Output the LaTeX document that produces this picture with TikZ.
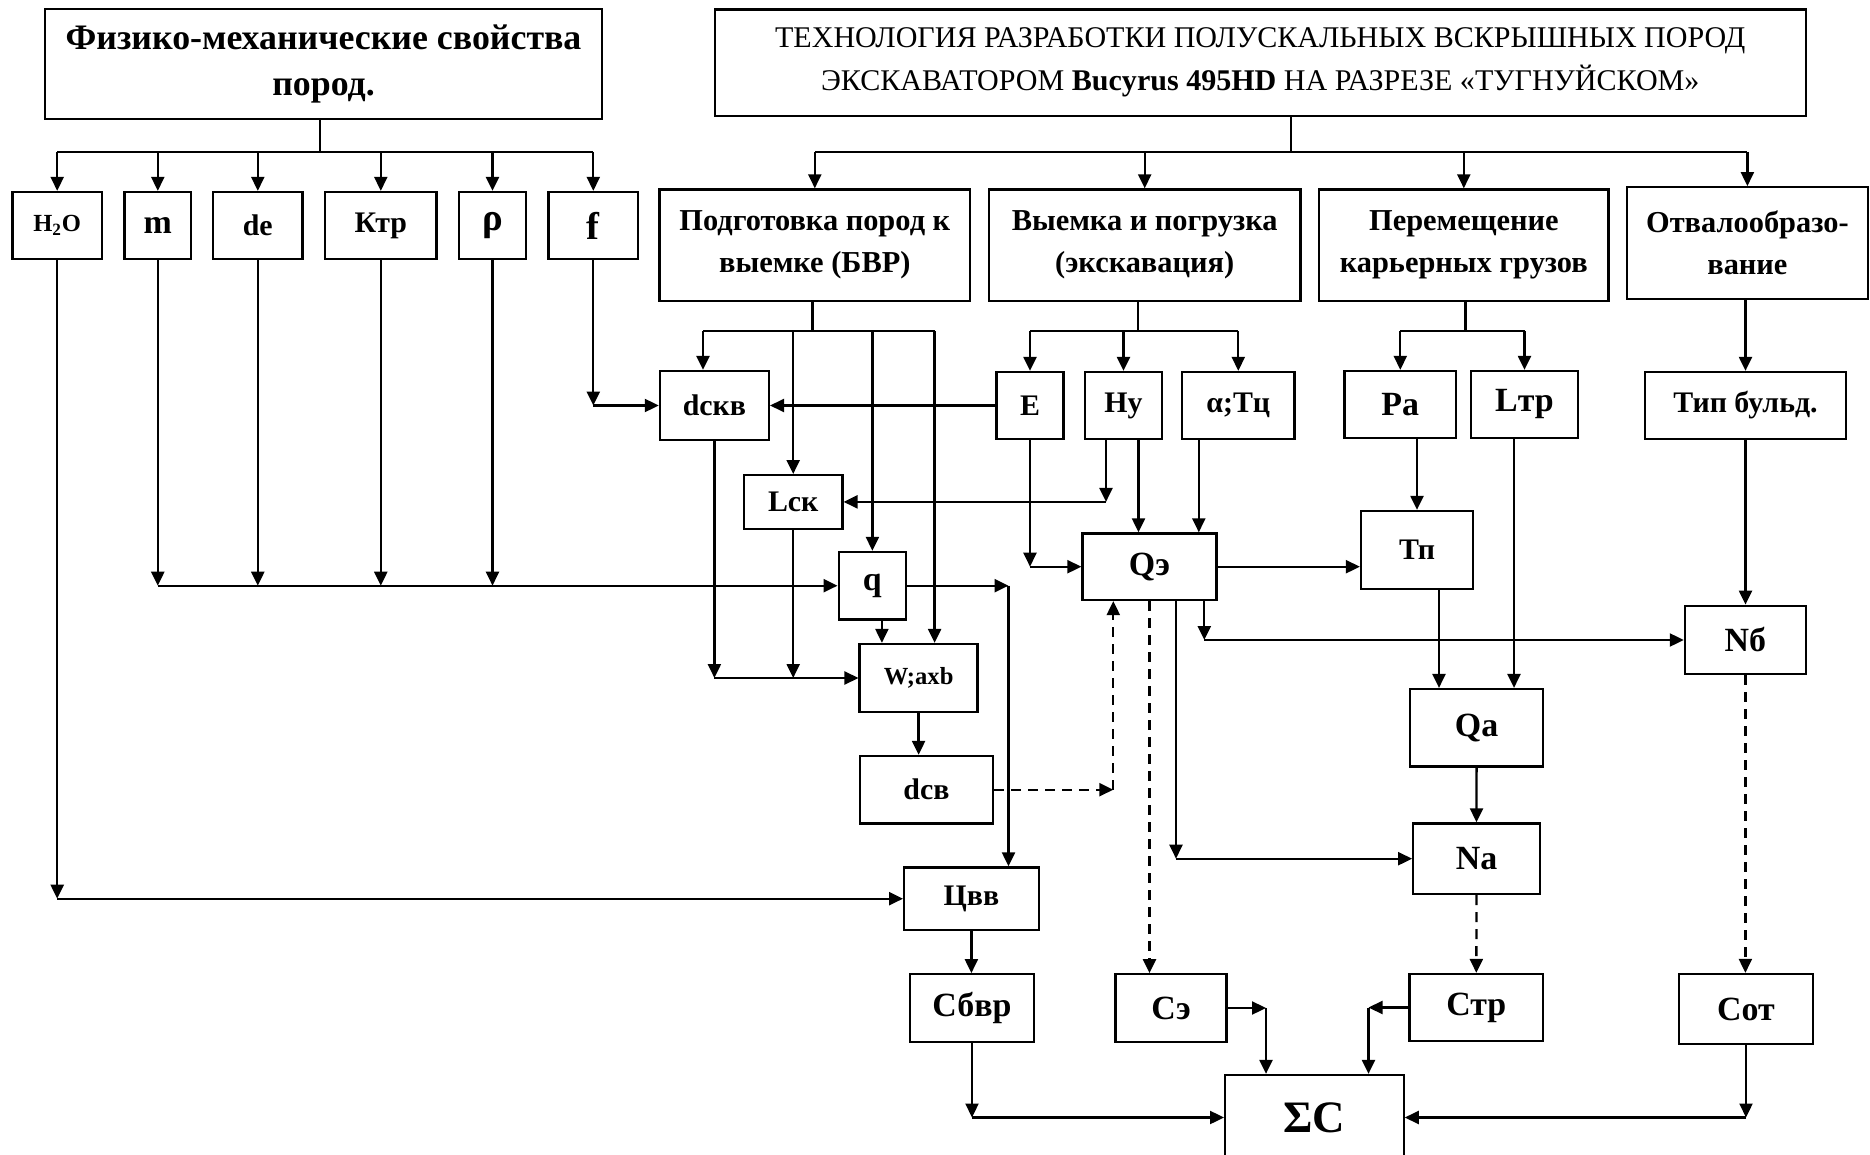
\documentclass[tikz,border=0pt]{standalone}
\usepackage{fontspec}
\setmainfont{Liberation Serif}
\usepackage{tikz}
\usetikzlibrary{positioning,arrows.meta}

\begin{document}
\begin{tikzpicture}[x=0.02cm, y=-0.02cm, line width=1.3pt,
    >={Triangle[length=0.28cm,width=0.26cm]},
    blk/.style={draw, inner sep=0pt, align=center,
      font=\bfseries\fontsize{17}{21}\selectfont},
    lblsm/.style={font=\bfseries\fontsize{14}{17}\selectfont},
    lblbig/.style={font=\bfseries\fontsize{19.3}{23}\selectfont},
    lblhuge/.style={font=\bfseries\fontsize{22}{26}\selectfont},
    stage/.style={font=\bfseries\fontsize{17.3}{24}\selectfont},
    dsh/.style={dash pattern=on 0.2cm off 0.14cm}]
  \useasboundingbox (0,0) rectangle (1870,1155);
  \clip (0,0) rectangle (1870,1155);

  % Headings
  \node[blk, minimum width=11.14cm, minimum height=2.2cm,
        font=\bfseries\fontsize{20.4}{26.5}\selectfont] (props) at (323.5,64)
        {Физико-механические свойства\\пород.};
  \node[blk, minimum width=21.83cm, minimum height=2.13cm,
        font=\fontsize{17.1}{24.5}\selectfont] (tech) at (1260.3,62.7)
        {ТЕХНОЛОГИЯ РАЗРАБОТКИ ПОЛУСКАЛЬНЫХ ВСКРЫШНЫХ ПОРОД\\
         ЭКСКАВАТОРОМ \textbf{Bucyrus 495HD} НА РАЗРЕЗЕ «ТУГНУЙСКОМ»};

  % Rock properties
  \node[blk, lblsm, minimum width=1.79cm, minimum height=1.34cm] (H2O) at (57.2,225.5) {H\textsubscript{2}O};
  \node[blk, lblbig, minimum width=1.33cm, minimum height=1.34cm] (m) at (157.8,225.5) {m};
  \node[blk, minimum width=1.79cm, minimum height=1.34cm] (de) at (257.8,225.5) {de};
  \node[blk, minimum width=2.23cm, minimum height=1.34cm] (ktr) at (380.8,225.5) {Ктр};
  \node[blk, lblhuge, minimum width=1.34cm, minimum height=1.34cm] (rho) at (492.5,225.5) {ρ};
  \node[blk, lblhuge, minimum width=1.79cm, minimum height=1.34cm] (f) at (593.3,225.5) {f};

  % Technology stages
  \node[blk, stage, minimum width=6.21cm, minimum height=2.23cm] (bvr) at (814.8,245.2)
        {Подготовка пород к\\выемке (БВР)};
  \node[blk, stage, minimum width=6.23cm, minimum height=2.23cm] (exc) at (1144.7,245.2)
        {Выемка и погрузка\\(экскавация)};
  \node[blk, stage, minimum width=5.79cm, minimum height=2.23cm] (trn) at (1463.8,245.2)
        {Перемещение\\карьерных грузов};
  \node[blk, stage, minimum width=4.83cm, minimum height=2.23cm] (dmp) at (1747.4,243)
        {Отвалообразо-\\вание};

  % Parameters
  \node[blk, minimum width=2.18cm, minimum height=1.38cm] (dskv) at (714.4,405.5) {dскв};
  \node[blk, minimum width=1.34cm, minimum height=1.34cm] (E) at (1030,405.5) {E};
  \node[blk, minimum width=1.54cm, minimum height=1.34cm] (Hy) at (1123.5,405.5) {Ну};
  \node[blk, minimum width=2.25cm, minimum height=1.34cm] (aT) at (1238.3,405.5) {α;Тц};
  \node[blk, lblbig, minimum width=2.23cm, minimum height=1.34cm] (Pa) at (1400.3,404.5) {Pa};
  \node[blk, lblbig, minimum width=2.15cm, minimum height=1.34cm] (Ltr) at (1524.5,404.5) {Lтр};
  \node[blk, minimum width=4.02cm, minimum height=1.34cm] (tip) at (1745.5,405.5) {Тип бульд.};

  \node[blk, minimum width=1.97cm, minimum height=1.07cm] (Lsk) at (793.2,501.9) {Lск};
  \node[blk, lblbig, minimum width=1.35cm, minimum height=1.35cm] (q) at (872.4,585.7) {q};
  \node[blk, lblbig, minimum width=2.68cm, minimum height=1.33cm] (Qe) at (1149.5,566.7) {Qэ};
  \node[blk, minimum width=2.24cm, minimum height=1.56cm] (Tp) at (1417,550) {Тп};
  \node[blk, lblbig, minimum width=2.42cm, minimum height=1.37cm] (Nb) at (1745.4,640) {Nб};
  \node[blk, lblsm, minimum width=2.36cm, minimum height=1.36cm] (W) at (918.6,678) {W;axb};
  \node[blk, lblbig, minimum width=2.67cm, minimum height=1.55cm] (Qa) at (1476.6,727.8) {Qa};
  \node[blk, minimum width=2.66cm, minimum height=1.35cm] (dsv) at (926.4,789.7) {dсв};
  \node[blk, lblbig, minimum width=2.53cm, minimum height=1.41cm] (Na) at (1476.5,858.7) {Na};
  \node[blk, minimum width=2.69cm, minimum height=1.25cm] (Cvv) at (971.4,898.7) {Цвв};

  % Costs
  \node[blk, lblbig, minimum width=2.48cm, minimum height=1.35cm] (Cbvr) at (972,1008) {Сбвр};
  \node[blk, lblbig, minimum width=2.22cm, minimum height=1.35cm] (Ce) at (1171.1,1008) {Сэ};
  \node[blk, lblbig, minimum width=2.67cm, minimum height=1.34cm] (Ctr) at (1476.3,1007.5) {Стр};
  \node[blk, lblbig, minimum width=2.68cm, minimum height=1.4cm] (Cot) at (1746,1009) {Сот};
  \node[blk, minimum width=3.57cm, minimum height=1.7cm,
        font=\bfseries\fontsize{25.6}{30}\selectfont] (SC) at (1314.4,1117.5) {ΣC};

  % Branches from headings
  \coordinate (pbus) at (320,152);
  \draw (pbus |- props.south) -- (pbus);
  \draw (H2O.north |- pbus) -- (f.north |- pbus);
  \foreach \n in {H2O,m,de,ktr,rho,f}
    \draw[->] (\n.north |- pbus) -- (\n.north);
  \coordinate (tbus) at (1291,152);
  \draw (tbus |- tech.south) -- (tbus);
  \draw (bvr.north |- tbus) -- (dmp.north |- tbus);
  \foreach \n in {bvr,exc,trn,dmp}
    \draw[->] (\n.north |- tbus) -- (\n.north);

  % Branches from stages
  \coordinate (bbus) at (812.6,331);
  \coordinate (bd) at (703,331);
  \coordinate (bw) at (934.6,331);
  \draw (bbus |- bvr.south) -- (bbus);
  \draw (bd) -- (bw);
  \draw[->] (bd) -- (bd |- dskv.north);
  \draw[->] (Lsk.north |- bbus) -- (Lsk.north);
  \draw[->] (q.north |- bbus) -- (q.north);
  \draw[->] (bw) -- (bw |- W.north);
  \coordinate (ebus) at (1138,331);
  \draw (ebus |- exc.south) -- (ebus);
  \draw (E.north |- ebus) -- (aT.north |- ebus);
  \foreach \n in {E,Hy,aT}
    \draw[->] (\n.north |- ebus) -- (\n.north);
  \coordinate (rbus) at (1465.5,331);
  \draw (rbus |- trn.south) -- (rbus);
  \draw (Pa.north |- rbus) -- (Ltr.north |- rbus);
  \foreach \n in {Pa,Ltr}
    \draw[->] (\n.north |- rbus) -- (\n.north);
  \draw[->] (tip.north |- dmp.south) -- (tip.north);

  % Properties into parameters
  \draw[->] (f.south) -- (f.south |- dskv.west);
  \draw[->] (f.south |- dskv.west) -- (dskv.west);
  \foreach \n in {m,de,ktr,rho}
    \draw[->] (\n.south) -- (\n.south |- q.west);
  \draw[->] (m.south |- q.west) -- (q.west);
  \draw[->] (H2O.south) -- (H2O.south |- Cvv.west);
  \draw[->] (H2O.south |- Cvv.west) -- (Cvv.west);

  % Blasting chain
  \draw[->] (E.west) -- (dskv.east);
  \draw[->] (dskv.south) -- (dskv.south |- W.west);
  \draw[->] (Lsk.south) -- (Lsk.south |- W.west);
  \draw[->] (dskv.south |- W.west) -- (W.west);
  \coordinate (hl) at (1106,501.9);
  \draw[->] (hl |- Hy.south) -- (hl);
  \draw[->] (hl) -- (Lsk.east);
  \coordinate (qw) at ([xshift=0.19cm]q.south);
  \draw[->] (qw) -- (qw |- W.north);
  \coordinate (qc) at (1008.5,585.7);
  \draw[->] (q.east) -- (qc);
  \draw[->] (qc) -- (qc |- Cvv.north);
  \draw[->] (W.south) -- (W.south |- dsv.north);
  \coordinate (dq) at (1113.3,789.7);
  \draw[dsh,->] (dsv.east) -- (dq);
  \draw[dsh,->] (dq) -- (dq |- Qe.south);

  % Excavation chain
  \coordinate (hq) at ([xshift=0.3cm]Hy.south);
  \draw[->] (hq) -- (hq |- Qe.north);
  \coordinate (aq) at ([xshift=-0.79cm]aT.south);
  \draw[->] (aq) -- (aq |- Qe.north);
  \draw[->] (E.south) -- (E.south |- Qe.west);
  \draw[->] (E.south |- Qe.west) -- (Qe.west);
  \draw[->] (Qe.east) -- (Qe.east -| Tp.west);
  \draw[dsh,->] (Qe.south) -- (Qe.south |- Ce.north);
  \coordinate (qn) at (1176,858.7);
  \draw[->] (qn |- Qe.south) -- (qn);
  \draw[->] (qn) -- (Na.west);
  \coordinate (qb) at (1204.3,640);
  \draw[->] (qb |- Qe.south) -- (qb);
  \draw[->] (qb) -- (Nb.west);

  % Transport and dumping
  \draw[->] (Tp.north |- Pa.south) -- (Tp.north);
  \coordinate (tq) at ([xshift=0.44cm]Tp.south);
  \draw[->] (tq) -- (tq |- Qa.north);
  \coordinate (lq) at ([xshift=-0.21cm]Ltr.south);
  \draw[->] (lq) -- (lq |- Qa.north);
  \draw[->] (tip.south) -- (tip.south |- Nb.north);
  \draw[->] (Qa.south) -- (Na.north);
  \draw[dsh,->] (Na.south) -- (Ctr.north);
  \draw[dsh,->] (Nb.south) -- (Nb.south |- Cot.north);
  \draw[->] (Cvv.south) -- (Cvv.south |- Cbvr.north);

  % Costs into the total
  \draw[->] (Cbvr.south) -- (Cbvr.south |- SC.west);
  \draw[->] (Cbvr.south |- SC.west) -- (SC.west);
  \draw[->] (Cot.south) -- (Cot.south |- SC.east);
  \draw[->] (Cot.south |- SC.east) -- (SC.east);
  \coordinate (cs1) at (1266,1008);
  \draw[->] (Ce.east) -- (cs1);
  \draw[->] (cs1) -- (cs1 |- SC.north);
  \coordinate (cs2) at (1368.5,1007.5);
  \draw[->] (Ctr.west) -- (cs2);
  \draw[->] (cs2) -- (cs2 |- SC.north);
\end{tikzpicture}
\end{document}
